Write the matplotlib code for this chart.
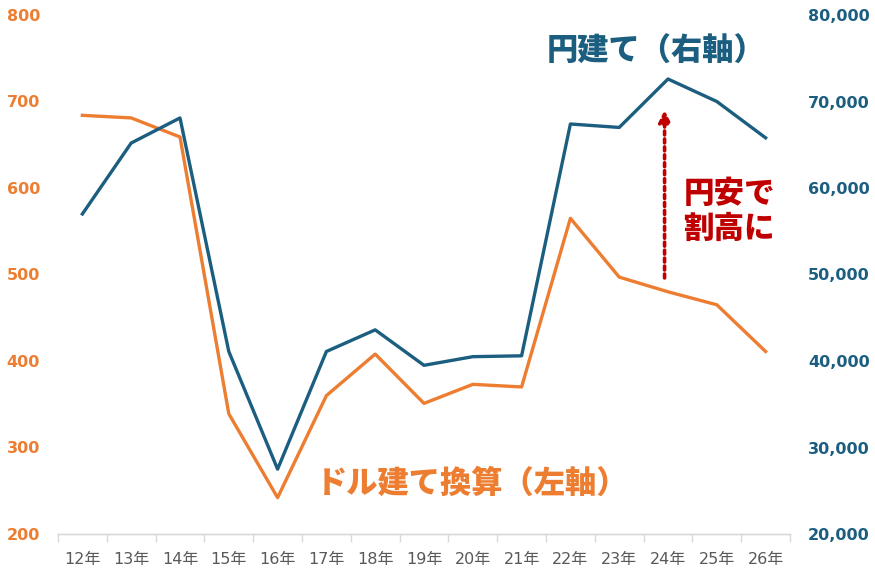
import matplotlib
matplotlib.use("Agg")
import matplotlib.pyplot as plt
from matplotlib.ticker import FixedLocator, FuncFormatter

years = ["12年", "13年", "14年", "15年", "16年", "17年", "18年", "19年",
         "20年", "21年", "22年", "23年", "24年", "25年", "26年"]
usd_based = [684, 681, 659, 339, 242, 360, 408, 351, 373, 370, 565, 497, 480, 465, 411]
yen_based = [57000, 65200, 68100, 41100, 27500, 41100, 43600, 39500, 40500, 40600,
             67400, 67000, 72600, 70000, 65800]
left_ticks = [200, 300, 400, 500, 600, 700, 800]
right_ticks = [20000, 30000, 40000, 50000, 60000, 70000, 80000]

ORANGE = "#ED7D31"
BLUE = "#1B5E80"
RED = "#C00000"
GREY = "#595959"
JP = ["Noto Sans CJK JP", "DejaVu Sans"]
NUM = ["DejaVu Sans", "Noto Sans CJK JP"]

fig = plt.figure(figsize=(8.75, 5.72), dpi=100)
ax = fig.add_axes([58/875, 1-534/572, 732/875, 519/572])
ax2 = ax.twinx()

x = list(range(len(years)))
ax.plot(x, usd_based, color=ORANGE, lw=2.4, zorder=3)
ax2.plot(x, yen_based, color=BLUE, lw=2.4, zorder=3)

ax.set_xlim(-0.5, len(years) - 0.5)
ax.set_ylim(200, 800)
ax2.set_ylim(20000, 80000)

ax.set_xticks(x)
ax.set_xticklabels(years, fontfamily=NUM, fontsize=11.5, color=GREY)
ax.xaxis.set_minor_locator(FixedLocator([i - 0.5 for i in range(len(years) + 1)]))
ax.tick_params(axis="x", which="major", length=0, pad=13)
ax.tick_params(axis="x", which="minor", length=6, color="#D9D9D9", width=1)

ax.yaxis.set_major_locator(FixedLocator(left_ticks))
ax.tick_params(axis="y", length=0, pad=13, labelcolor=ORANGE, labelsize=11.5)
for t in ax.get_yticklabels():
    t.set_fontweight("bold")
ax2.yaxis.set_major_locator(FixedLocator(right_ticks))
ax2.yaxis.set_major_formatter(FuncFormatter(lambda v, p: f"{int(v):,}"))
ax2.tick_params(axis="y", length=0, pad=13, labelcolor=BLUE, labelsize=11.5)
for t in ax2.get_yticklabels():
    t.set_fontweight("bold")

for a in (ax, ax2):
    for s in ("top", "left", "right"):
        a.spines[s].set_visible(False)
    a.spines["bottom"].set_color("#D9D9D9")
    a.spines["bottom"].set_linewidth(1)

ax.text(0.817, 0.930, "円建て（右軸）", transform=ax.transAxes, ha="center", va="center",
        fontfamily=JP, fontweight="black", fontsize=22.5, color=BLUE)
ax.text(0.566, 0.098, "ドル建て換算（左軸）", transform=ax.transAxes, ha="center", va="center",
        fontfamily=JP, fontweight="black", fontsize=22.5, color=ORANGE)
ax.text(0.917, 0.657, "円安で", transform=ax.transAxes, ha="center", va="center",
        fontfamily=JP, fontweight="black", fontsize=22, color=RED)
ax.text(0.917, 0.588, "割高に", transform=ax.transAxes, ha="center", va="center",
        fontfamily=JP, fontweight="black", fontsize=22, color=RED)

ax.annotate("", xy=(11.93, 690), xytext=(11.93, 496),
            arrowprops=dict(arrowstyle="-|>,head_length=0.7,head_width=0.35", color=RED,
                            lw=2.6, linestyle=(0, (1.1, 1.1)), shrinkA=0, shrinkB=0))

fig.savefig("out.png", dpi=100)
